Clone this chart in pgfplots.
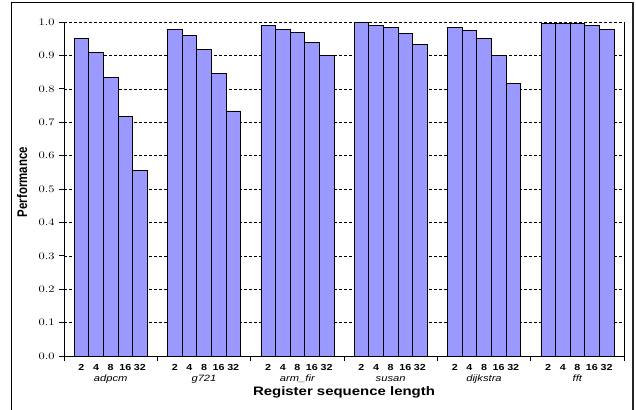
\documentclass[border=0pt]{standalone}
\usepackage{fontspec}
\setmainfont{Liberation Sans}
\usepackage{pgfplots}
\pgfplotsset{compat=1.18}
\definecolor{barblue}{RGB}{153,153,255}
\begin{document}
\begin{tikzpicture}
\useasboundingbox (0,0) rectangle (636bp,410bp);
\draw[line width=0.8bp] (11bp,0) -- (11bp,408bp) -- (633bp,408bp);
\draw[line width=1.6bp, black!85] (633bp,408.4bp) -- (633bp,0);
\node[font=\bfseries\fontsize{11.5}{13}\selectfont, anchor=base, rotate=90, yscale=1.22] at (27bp,228bp) {Performance};
\begin{axis}[
  at={(64bp,54bp)}, anchor=south west,
  scale only axis, width=560bp, height=334bp,
  xmin=0, xmax=6, ymin=0, ymax=1,
  axis x line*=bottom, axis y line*=left,
  axis line style={black, line width=0.8bp, -},
  tick align=outside,
  major tick length=5bp,
  tick style={black, line width=0.6bp},
  ytick={0,0.1,0.2,0.3,0.4,0.5,0.6,0.7,0.8,0.9,1.0},
  yticklabel={\pgfmathprintnumber[fixed,fixed zerofill,precision=1]{\tick}},
  yticklabel style={font=\fontsize{9.8}{11}\selectfont, xscale=1.25},
  ymajorgrids,
  grid style={black, line width=0.5bp, dash pattern=on 3bp off 2bp},
  xtick={0,1,2,3,4,5,6},
  xticklabels={},
  extra x ticks={0.187,0.3435,0.5,0.6565,0.813,
                 1.187,1.3435,1.5,1.6565,1.813,
                 2.187,2.3435,2.5,2.6565,2.813,
                 3.187,3.3435,3.5,3.6565,3.813,
                 4.187,4.3435,4.5,4.6565,4.813,
                 5.187,5.3435,5.5,5.6565,5.813},
  extra x tick labels={2,4,8,16,32,2,4,8,16,32,2,4,8,16,32,2,4,8,16,32,2,4,8,16,32,2,4,8,16,32},
  extra x tick style={major tick length=0pt, tick style={draw=none}, grid=none,
     tick label style={font=\bfseries\fontsize{8.8}{10}\selectfont, xscale=1.22, inner sep=0pt, anchor=north, yshift=-8bp}},
  xlabel={Register sequence length},
  xlabel style={font=\bfseries\fontsize{12.3}{14}\selectfont, xscale=1.22, at={(axis description cs:0.5,0)}, anchor=base, yshift=-39.7bp},
  clip=false,
]
\addplot[ybar, bar width=0.1565, fill=barblue, draw=black, line width=0.6bp] coordinates {
 (0.187,0.951) (0.3435,0.909) (0.5,0.834) (0.6565,0.717) (0.813,0.555)
 (1.187,0.979) (1.3435,0.959) (1.5,0.918) (1.6565,0.846) (1.813,0.734)
 (2.187,0.991) (2.3435,0.979) (2.5,0.970) (2.6565,0.939) (2.813,0.899)
 (3.187,0.998) (3.3435,0.991) (3.5,0.984) (3.6565,0.966) (3.813,0.933)
 (4.187,0.984) (4.3435,0.975) (4.5,0.950) (4.6565,0.900) (4.813,0.815)
 (5.187,0.996) (5.3435,0.996) (5.5,0.996) (5.6565,0.989) (5.813,0.979)
};
\draw[black, line width=0.8bp] (rel axis cs:1,0) -- (rel axis cs:1,1);
\node[anchor=base, yshift=-25.5bp, xscale=1.22, font=\itshape\fontsize{9.2}{11}\selectfont] at (axis cs:0.5,0) {adpcm};
\node[anchor=base, yshift=-25.5bp, xscale=1.22, font=\itshape\fontsize{9.2}{11}\selectfont] at (axis cs:1.5,0) {g721};
\node[anchor=base, yshift=-25.5bp, xscale=1.22, font=\itshape\fontsize{9.2}{11}\selectfont] at (axis cs:2.5,0) {arm\_fir};
\node[anchor=base, yshift=-25.5bp, xscale=1.22, font=\itshape\fontsize{9.2}{11}\selectfont] at (axis cs:3.5,0) {susan};
\node[anchor=base, yshift=-25.5bp, xscale=1.22, font=\itshape\fontsize{9.2}{11}\selectfont] at (axis cs:4.5,0) {dijkstra};
\node[anchor=base, yshift=-25.5bp, xscale=1.22, font=\itshape\fontsize{9.2}{11}\selectfont] at (axis cs:5.5,0) {fft};
\end{axis}
\end{tikzpicture}
\end{document}
